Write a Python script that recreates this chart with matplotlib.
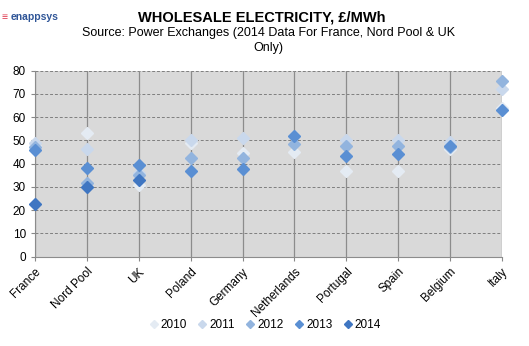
import matplotlib
matplotlib.use("Agg")
import matplotlib.pyplot as plt
import numpy as np

plt.rcParams['font.family'] = ['Liberation Sans', 'DejaVu Sans']

countries = ["France", "Nord Pool", "UK", "Poland", "Germany", "Netherlands",
             "Portugal", "Spain", "Belgium", "Italy"]

# values (None = no data for that year)
y2010 = [47.5, 53.0, 31.0, 49.0, 44.5, 45.0, 37.0, 37.0, 46.5, 64.0]
y2011 = [49.0, 46.5, 36.0, 50.0, 51.0, 52.0, 50.0, 50.0, 49.5, 72.0]
y2012 = [47.0, 31.5, 35.0, 42.5, 42.5, 48.5, 47.5, 47.5, 47.0, 75.5]
y2013 = [46.0, 38.0, 39.5, 37.0, 37.5, 52.0, 43.5, 44.0, 47.5, 63.0]
y2014 = [22.5, 30.0, 33.0, None, None, None, None, None, None, None]

series = [("2010", y2010, "#e4ebf3"),
          ("2011", y2011, "#c9d8ec"),
          ("2012", y2012, "#92b4de"),
          ("2013", y2013, "#5a8fd3"),
          ("2014", y2014, "#3f76c2")]

fig = plt.figure(figsize=(5.29, 3.46), dpi=100)
ax = fig.add_axes([0.066, 0.258, 0.883, 0.538])
ax.set_facecolor("#d9d9d9")

x = np.arange(len(countries))
for name, vals, col in series:
    xs = [i for i, v in zip(x, vals) if v is not None]
    ys = [v for v in vals if v is not None]
    ax.plot(xs, ys, linestyle="none", marker="D", markersize=6.5,
            color=col, markeredgecolor=col, label=name, zorder=3, clip_on=False)

ax.set_xlim(0, 9)
ax.set_ylim(0, 80)
ax.set_yticks(range(0, 81, 10))
ax.set_xticks(x)
ax.set_xticklabels(countries, rotation=45, ha="right", rotation_mode="anchor",
                   fontsize=8.5)
ax.tick_params(axis="y", labelsize=8.5, length=3, color="#888888")
ax.tick_params(axis="x", length=3, color="#888888")

for yv in range(10, 81, 10):
    ax.axhline(yv, color="#7f7f7f", linestyle=(0, (3, 2)), linewidth=0.7, zorder=1)
for xv in x:
    ax.axvline(xv, color="#8c8c8c", linewidth=0.9, zorder=1)

for side in ["top", "right"]:
    ax.spines[side].set_visible(False)
for side in ["left", "bottom"]:
    ax.spines[side].set_color("#8c8c8c")

fig.text(0.495, 0.95, "WHOLESALE ELECTRICITY, £/MWh", ha="center", va="center",
         fontsize=10.5, fontweight="bold")
fig.text(0.508, 0.905, "Source: Power Exchanges (2014 Data For France, Nord Pool & UK",
         ha="center", va="center", fontsize=9)
fig.text(0.508, 0.86, "Only)", ha="center", va="center", fontsize=9)

# logo
fig.text(0.002, 0.95, "≡", ha="left", va="center", fontsize=7.5, color="#e0344a",
         fontweight="bold")
fig.text(0.02, 0.95, "enappsys", ha="left", va="center", fontsize=7.5,
         color="#2f5597", fontweight="bold")

leg = fig.legend(loc="center", bbox_to_anchor=(0.5, 0.06), ncol=5, frameon=False,
                 fontsize=8.5, handletextpad=0.1, columnspacing=0.8,
                 handlelength=1.0, markerscale=0.6)

fig.savefig("out.png", dpi=100)
